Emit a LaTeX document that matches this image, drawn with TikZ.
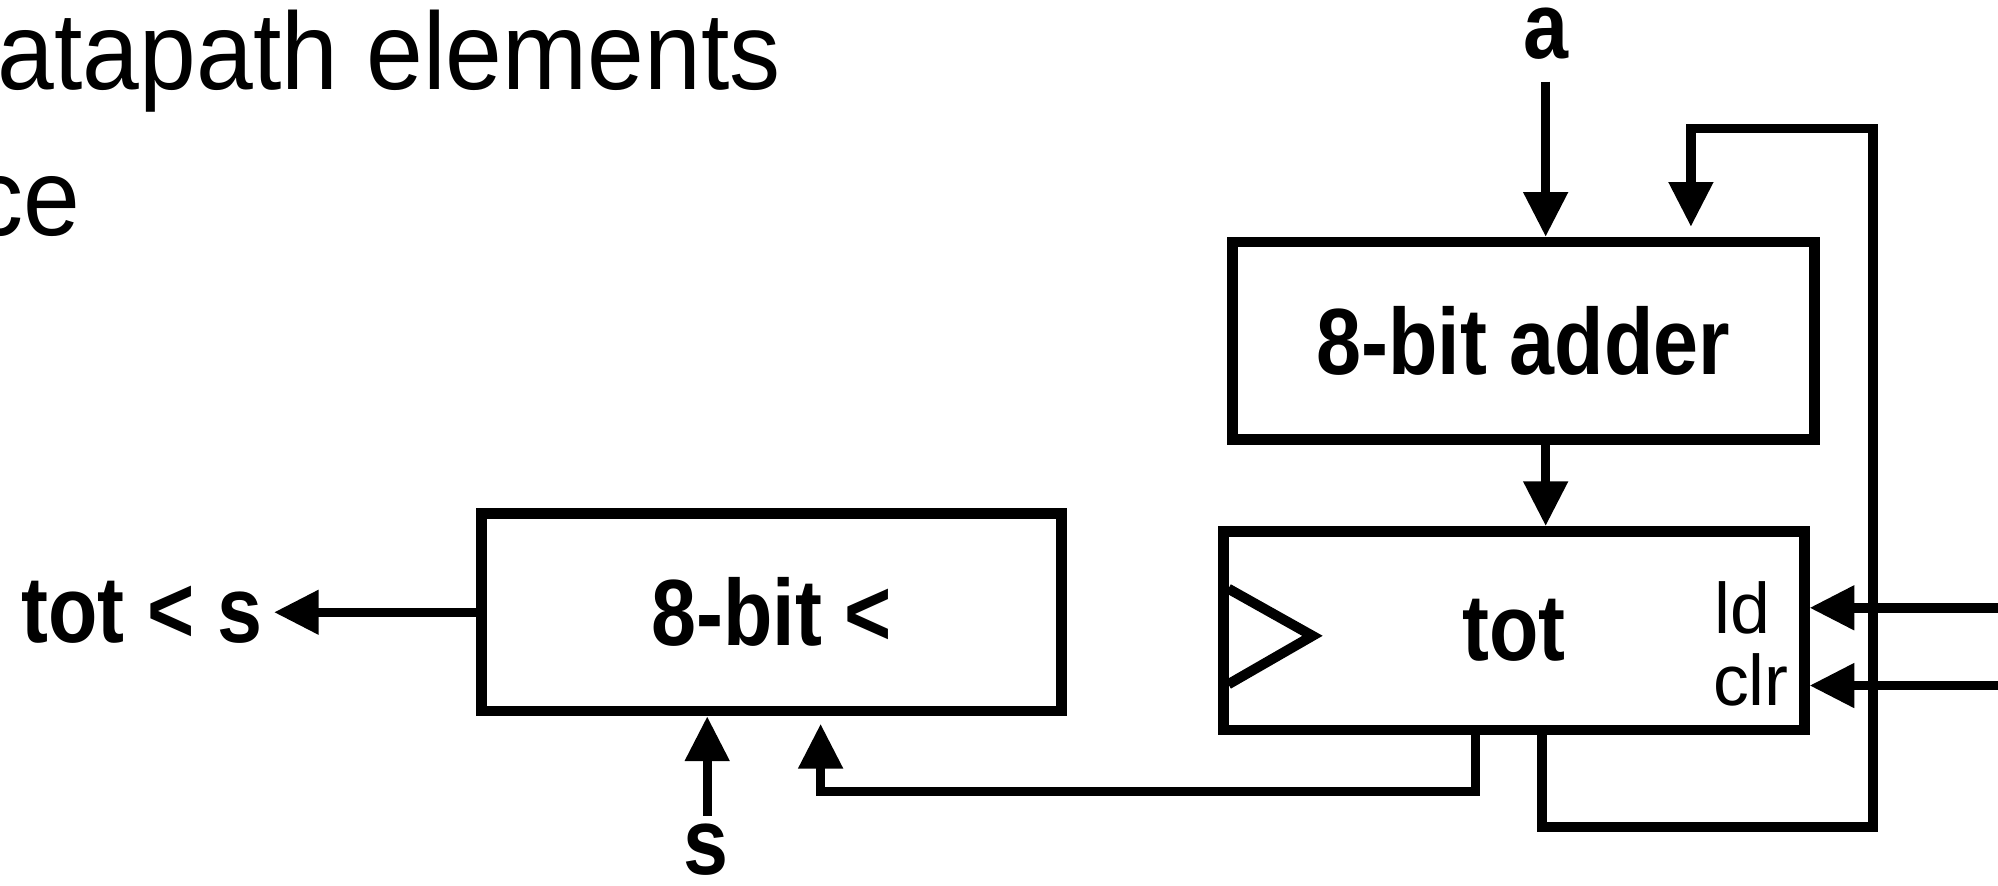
\documentclass[tikz,border=0pt]{standalone}
\usepackage{fontspec}
\setmainfont{Liberation Sans}
\newfontfamily\lblfont[FakeStretch=0.86]{Liberation Sans}
\newfontfamily\ttlfont[FakeStretch=0.93]{Liberation Sans}
\usetikzlibrary{arrows.meta,calc}
\tikzset{
  blk/.style={draw, line width=4.7pt, inner sep=0pt, font=\lblfont\fontsize{42}{46}\selectfont\bfseries},
  wire/.style={line width=4.2pt},
  arr/.style={wire, -{Triangle[length=20pt,width=19pt]}},
  lbl/.style={inner sep=0pt, font=\lblfont\fontsize{42}{46}\selectfont\bfseries},
  pin/.style={inner sep=0pt, anchor=base west, font=\fontsize{32}{36}\selectfont},
  title/.style={inner sep=0pt, anchor=base west, font=\ttlfont\fontsize{49}{54}\selectfont}
}
\begin{document}
\begin{tikzpicture}[x=0.02cm,y=-0.02cm]
\useasboundingbox (0,0) rectangle (1568,695);
% title fragments
\node[title] (t1) at (-2,70) {atapath elements};
\node[title] (t2) at (-22,185) {ce};
% blocks
\node[blk, minimum width=9.14cm, minimum height=3.1cm] (add) at (1195.5,267.5) {8-bit adder};
\node[blk, minimum width=9.12cm, minimum height=3.12cm] (tot) at (1188,495) {tot};
\node[blk, minimum width=9.1cm, minimum height=3.1cm] (cmp) at (605.5,480.5) {8-bit <};
% clock triangle
\draw[line width=4.5pt] (964,462) -- (1030,499) -- (964,537);
% pin labels
\node[pin] (ld) at (1345,497) {ld};
\node[pin] (clr) at (1344,554) {clr};
% labels
\node[lbl, anchor=base] (a) at (1213,46) {a};
\node[lbl, anchor=base east] (out) at (206,504) {tot < s};
\node[lbl, anchor=base] (s) at (554,686) {s};
% coordinates
\coordinate (ain) at (1213,64);
\coordinate (ldin) at (1575,477);
\coordinate (clrin) at (1575,538);
\coordinate (fbtip) at (1327,178);
\coordinate (cmptip) at (644,568);
\coordinate (sin) at (555,640);
% connectors
\draw[arr] (ain) -- (ain |- add.north);
\draw[arr] (add.south -| 1213,0) -- (tot.north -| 1213,0);
\draw[arr] (cmp.west) -- ([xshift=0.18cm]out.east |- cmp.west);
\draw[arr] (sin) -- (sin |- cmp.south);
\draw[arr] (tot.south -| 1158,0) -- (1158,621) -- (644,621) -- (cmptip);
\draw[arr] (ldin) -- (ldin -| tot.east);
\draw[arr] (clrin) -- (clrin -| tot.east);
\draw[wire] (tot.south -| 1210,0) -- (1210,649) -- (1470,649) -- (1470,101) -- (1327,101) -- (1327,150);
\draw[arr] (1327,140) -- (fbtip);
\end{tikzpicture}
\end{document}
